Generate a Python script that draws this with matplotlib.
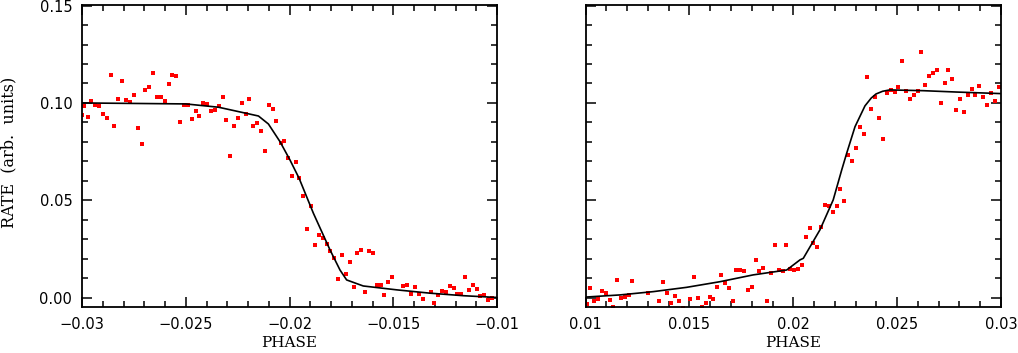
import numpy as np
import matplotlib
matplotlib.use("Agg")
import matplotlib.pyplot as plt
from matplotlib.ticker import MultipleLocator

# ingress (left panel) data points
phase_in = [-0.0300, -0.0299, -0.0297, -0.02955, -0.02936, -0.02918, -0.0290, -0.0288,
            -0.02862, -0.02844, -0.02825, -0.02806, -0.02788, -0.02769, -0.02751, -0.02732,
            -0.02713, -0.02695, -0.02676, -0.02658, -0.02639, -0.02619, -0.02602, -0.02582,
            -0.02565, -0.02545, -0.02526, -0.02508, -0.02489, -0.02471, -0.02452, -0.02435,
            -0.02415, -0.02397, -0.02378, -0.02359, -0.02341, -0.02322, -0.02304, -0.02285,
            -0.02267, -0.02248, -0.0223, -0.02211, -0.02194, -0.02174, -0.02157, -0.02137,
            -0.02118, -0.0210, -0.02081, -0.02063, -0.02043, -0.02026, -0.02006, -0.01988,
            -0.01969, -0.01953, -0.01933, -0.01914, -0.01896, -0.01877, -0.01858, -0.0184,
            -0.01821, -0.01803, -0.01784, -0.01766, -0.01747, -0.01728, -0.0171, -0.01691,
            -0.01673, -0.01654, -0.01636, -0.01617, -0.01599, -0.0158, -0.01561, -0.01543,
            -0.01525, -0.01506, -0.01452, -0.01432, -0.01413, -0.01395, -0.01376, -0.01357,
            -0.0132, -0.01303, -0.01283, -0.01266, -0.01246, -0.01228, -0.01209, -0.01191,
            -0.01172, -0.01153, -0.01135, -0.01117, -0.01098, -0.0108, -0.01061, -0.01043,
            -0.01024]
rate_in = [0.0940, 0.0985, 0.0930, 0.1010, 0.0990, 0.0985, 0.0943, 0.0921,
           0.1142, 0.0882, 0.1022, 0.1113, 0.1014, 0.1007, 0.1040, 0.0870,
           0.0788, 0.1067, 0.1084, 0.1153, 0.1029, 0.1029, 0.1012, 0.1099,
           0.1145, 0.1139, 0.0902, 0.0988, 0.0988, 0.0916, 0.0957, 0.0933,
           0.1002, 0.0995, 0.0957, 0.0962, 0.0985, 0.1029, 0.0914, 0.0726,
           0.0882, 0.0923, 0.0998, 0.0942, 0.1022, 0.0882, 0.0896, 0.0855,
           0.0752, 0.0991, 0.0969, 0.0906, 0.0793, 0.0805, 0.0716, 0.0627,
           0.0699, 0.0616, 0.0524, 0.0353, 0.0471, 0.0269, 0.0324, 0.0305,
           0.0276, 0.0241, 0.0202, 0.0098, 0.0221, 0.0122, 0.0185, 0.0053,
           0.0228, 0.0245, 0.0029, 0.0241, 0.0230, 0.0065, 0.0065, 0.0012,
           0.0081, 0.0105, 0.0060, 0.0064, 0.0021, 0.0057, 0.0017, -0.0005,
           0.0031, -0.0029, 0.0014, 0.0034, 0.0029, 0.0062, 0.0050, 0.0019,
           0.0017, 0.0106, 0.0038, 0.0067, 0.0046, 0.0010, 0.0012, -0.0010,
           0.0000]

# ingress model curve
model_in_x = [-0.0300, -0.0250, -0.02342, -0.0215, -0.02102, -0.02046, -0.01998, -0.01954,
              -0.01885, -0.01805, -0.01757, -0.01725, -0.01645, -0.01483, -0.01323, -0.01162,
              -0.0100]
model_in_y = [0.1000, 0.0995, 0.0978, 0.0933, 0.0892, 0.0801, 0.0707, 0.0613,
              0.0433, 0.0245, 0.0142, 0.0091, 0.0060, 0.0040, 0.0023, 0.0010,
              0.0001]

# egress (right panel) data points
phase_eg = [0.01005, 0.01021, 0.0104, 0.01059, 0.01078, 0.01096, 0.01116, 0.01133,
            0.01151, 0.0117, 0.01189, 0.01207, 0.01224, 0.01299, 0.01354, 0.01374,
            0.01392, 0.01411, 0.0143, 0.01448, 0.01467, 0.01504, 0.01522, 0.01541,
            0.0156, 0.01578, 0.01597, 0.01615, 0.01634, 0.01652, 0.01671, 0.01689,
            0.01708, 0.01725, 0.01745, 0.01762, 0.01782, 0.01799, 0.01819, 0.01836,
            0.01855, 0.01873, 0.01892, 0.01912, 0.01929, 0.01949, 0.01966, 0.01985,
            0.02003, 0.02022, 0.02042, 0.0206, 0.02079, 0.02096, 0.02115, 0.02133,
            0.02152, 0.02172, 0.02189, 0.02209, 0.02226, 0.02245, 0.02263, 0.02282,
            0.02302, 0.02319, 0.02339, 0.02356, 0.02375, 0.02395, 0.02412, 0.02432,
            0.02451, 0.02469, 0.02488, 0.02505, 0.02525, 0.02543, 0.02562, 0.0258,
            0.02599, 0.02616, 0.02636, 0.02653, 0.02673, 0.02692, 0.0271, 0.02729,
            0.02746, 0.02765, 0.02783, 0.02803, 0.0282, 0.0284, 0.02859, 0.02876,
            0.02896, 0.02913, 0.02933, 0.0295, 0.0297, 0.02989]
rate_eg = [-0.0034, 0.0051, -0.0017, -0.0005, 0.0034, 0.0024, -0.0012, -0.0049,
           0.0091, -0.0003, 0.0004, 0.0014, 0.0084, 0.0024, -0.0018, 0.0082,
           0.0026, -0.0029, 0.0009, -0.0018, -0.0054, -0.0007, 0.0105, 0.0000,
           -0.0046, -0.0029, 0.0005, -0.0005, 0.0053, 0.0117, 0.0077, 0.0048,
           -0.0018, 0.0142, 0.0142, 0.0136, 0.0038, 0.0053, 0.0192, 0.0136,
           0.0153, -0.0017, 0.0125, 0.0269, 0.0141, 0.0136, 0.0271, 0.0146,
           0.0141, 0.0146, 0.0170, 0.0312, 0.0356, 0.0282, 0.0260, 0.0362,
           0.0478, 0.0473, 0.0439, 0.0473, 0.0560, 0.0495, 0.0733, 0.0701,
           0.0769, 0.0878, 0.0841, 0.1135, 0.0968, 0.1029, 0.0923, 0.0815,
           0.1053, 0.1067, 0.1058, 0.1084, 0.1214, 0.1062, 0.1021, 0.1043,
           0.1063, 0.1262, 0.1094, 0.1137, 0.1153, 0.1168, 0.0998, 0.1104,
           0.1171, 0.1122, 0.0962, 0.1019, 0.0954, 0.1040, 0.1070, 0.1043,
           0.1087, 0.1032, 0.0990, 0.1050, 0.1009, 0.1084]

# egress model curve
model_eg_x = [0.0100, 0.01165, 0.01326, 0.01486, 0.01647, 0.01807, 0.01968, 0.02032,
              0.02048, 0.02128, 0.02192, 0.02233, 0.02257, 0.02297, 0.02345, 0.02375,
              0.02398, 0.02430, 0.02465, 0.02626, 0.02787, 0.02947, 0.0300]
model_eg_y = [0.0003, 0.0014, 0.0031, 0.0053, 0.0082, 0.0117, 0.0142, 0.0194,
              0.0202, 0.0348, 0.0502, 0.0656, 0.0742, 0.0878, 0.0985, 0.1025,
              0.1046, 0.1060, 0.1067, 0.1063, 0.1056, 0.1050, 0.1048]

fig = plt.figure(figsize=(10.18, 3.53), dpi=100)
ax1 = fig.add_axes([0.0806, 0.1303, 0.4077, 0.8555])
ax2 = fig.add_axes([0.5753, 0.1303, 0.4080, 0.8555])

serif = {'family': 'DejaVu Serif', 'size': 11}

for ax, px, py, mx, my, xl in [(ax1, phase_in, rate_in, model_in_x, model_in_y, (-0.03, -0.01)),
                               (ax2, phase_eg, rate_eg, model_eg_x, model_eg_y, (0.01, 0.03))]:
    ax.plot(px, py, 's', color='#ff0000', markersize=3.4, markeredgewidth=0)
    ax.plot(mx, my, '-', color='black', linewidth=1.2)
    ax.set_xlim(*xl)
    ax.set_ylim(-0.0048, 0.1503)
    ax.xaxis.set_major_locator(MultipleLocator(0.005))
    ax.xaxis.set_minor_locator(MultipleLocator(0.001))
    ax.yaxis.set_major_locator(MultipleLocator(0.05))
    ax.yaxis.set_minor_locator(MultipleLocator(0.01))
    ax.tick_params(which='both', direction='in', top=True, right=True, width=1.1,
                   labelsize=10.5, colors='black')
    ax.tick_params(which='major', length=7.2, pad=7)
    ax.tick_params(which='minor', length=4.3)
    ax.tick_params(axis='x', which='major', pad=7)
    for s in ax.spines.values():
        s.set_linewidth(1.3)
    ax.set_xlabel('PHASE', fontdict=serif, labelpad=3)

ax1.yaxis.set_major_formatter(plt.FuncFormatter(lambda v, p: '%.2f' % v))
ax1.xaxis.set_major_formatter(plt.FuncFormatter(lambda v, p: ('%g' % round(v, 4)).replace('-', '\u2212')))
ax2.xaxis.set_major_formatter(plt.FuncFormatter(lambda v, p: '%g' % round(v, 4)))
ax2.set_yticklabels([])
ax1.set_ylabel('RATE  (arb.  units)', fontdict={'family': 'DejaVu Serif', 'size': 11.5})
ax1.yaxis.set_label_coords(-0.157, 0.513)

fig.savefig('out.png', dpi=100)
